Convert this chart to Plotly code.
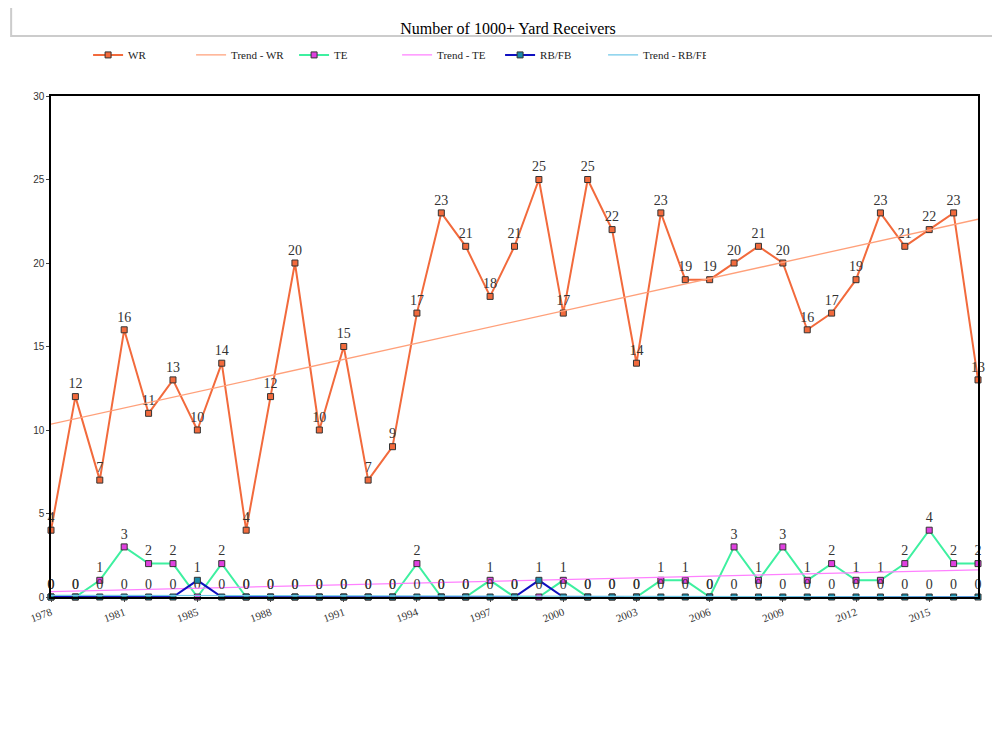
import numpy as np
import plotly.graph_objects as go

years = [1978,1979,1980,1981,1983,1984,1985,1986,1987,1988,1989,1990,1991,1992,1993,1994,1995,1996,1997,1998,
         1999,2000,2001,2002,2003,2004,2005,2006,2007,2008,2009,2010,2011,2012,2013,2014,2015,2016,2017]
wr = [4,12,7,16,11,13,10,14,4,12,20,10,15,7,9,17,23,21,18,21,25,17,25,22,14,23,19,19,20,21,20,16,17,19,23,21,22,23,13]
te = [0,0,1,3,2,2,0,2,0,0,0,0,0,0,0,2,0,0,1,0,0,1,0,0,0,1,1,0,3,1,3,1,2,1,1,2,4,2,2]
rb = [0,0,0,0,0,0,1,0,0,0,0,0,0,0,0,0,0,0,0,0,1,0,0,0,0,0,0,0,0,0,0,0,0,0,0,0,0,0,0]

x = list(range(len(years)))
tickidx = x[::3]
ticktext = [str(years[i]) for i in tickidx]

def trend(v):
    a, b = np.polyfit(x, v, 1)
    return [a*i + b for i in x]

fig = go.Figure()
serif = "Liberation Serif"
def series(v, name, line, mk):
    fig.add_trace(go.Scatter(x=x, y=v, name=name, mode="lines+markers+text", text=[str(t) for t in v],
        textposition="top center", textfont=dict(family=serif, size=14, color="#333"),
        line=dict(color=line, width=2), marker=dict(symbol="square", size=6, color=mk, line=dict(color="#333", width=1)), cliponaxis=False))
def tr(v, name, color):
    fig.add_trace(go.Scatter(x=x, y=trend(v), name=name, mode="lines", line=dict(color=color, width=1.3)))

series(wr, "WR", "#f26a3c", "#f26a3c"); tr(wr, "Trend - WR", "#ffa07a")
series(te, "TE", "#3ef0a0", "#e040e0"); tr(te, "Trend - TE", "#ff80ff")
series(rb, "RB/FB", "#1010c0", "#1a8aa8"); tr(rb, "Trend - RB/FB", "#70c8e8")

fig.update_layout(
    width=1000, height=736, paper_bgcolor="white", plot_bgcolor="white",
    margin=dict(l=43, r=30, t=88, b=147, autoexpand=False),
    title=dict(text="Number of 1000+ Yard Receivers", x=0.5, y=0.98, yanchor="top", font=dict(family=serif, size=16, color="black")),
    legend=dict(orientation="h", x=0.04, y=1.082, yanchor="middle", font=dict(family=serif, size=11, color="#222"),
                entrywidth=58, traceorder="normal"),
    showlegend=True,
    shapes=[dict(type="rect", xref="paper", yref="paper", x0=-0.043, x1=1.03, y0=1.12, y1=1.18, line=dict(color="#ccc", width=2), layer="below")],
)
fig.update_xaxes(range=[0, 38], tickvals=tickidx, ticktext=ticktext, tickangle=-20, showgrid=False, zeroline=False, automargin=False,
                 showline=True, linecolor="black", linewidth=2, mirror=True, ticks="outside", ticklen=3,
                 tickfont=dict(family=serif, size=11, color="#333"))
fig.update_yaxes(range=[0, 30], dtick=5, showgrid=False, zeroline=False, showline=True, linecolor="black", linewidth=1.5, automargin=False,
                 mirror=True, ticks="outside", ticklen=3, tickfont=dict(family="Liberation Sans", size=10, color="#333"))
fig.write_html("out.html")
